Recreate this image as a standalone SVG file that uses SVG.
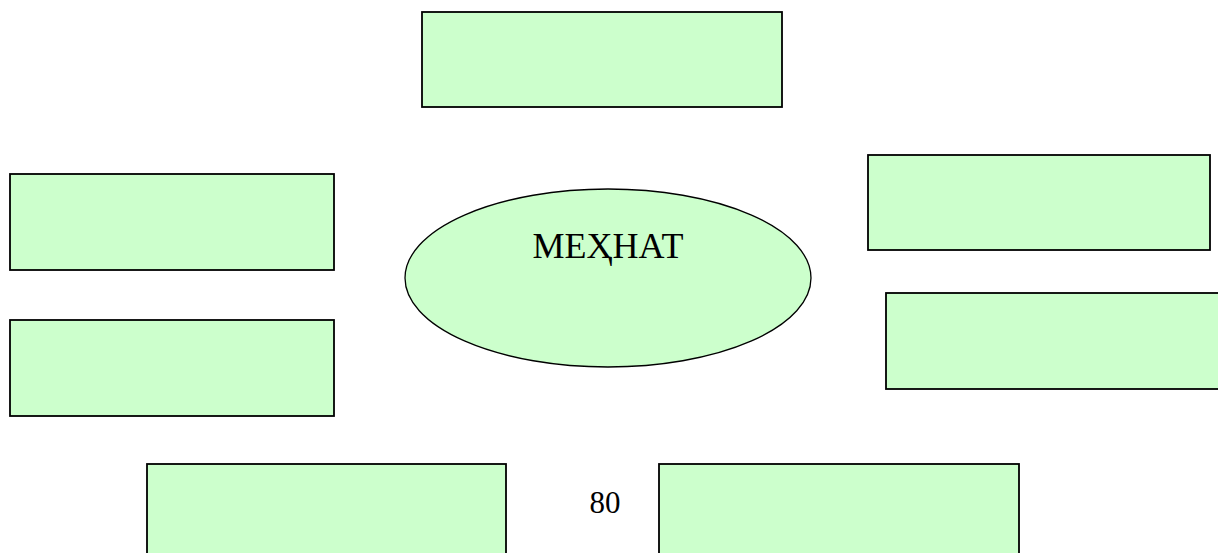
<svg xmlns="http://www.w3.org/2000/svg" width="1218" height="553" viewBox="0 0 1218 553">
<style>
.box{fill:#CCFFCC;stroke:#000;stroke-width:1.8}
.ell{fill:#CCFFCC;stroke:#000;stroke-width:1.3}
.t{font-family:"Liberation Serif","Times New Roman",serif;fill:#000}
</style>
<rect width="1218" height="553" fill="#fff"/>
<g id="top"><rect class="box" x="422" y="12" width="360" height="95"/></g>
<g id="left1"><rect class="box" x="10" y="174" width="324" height="96"/></g>
<g id="left2"><rect class="box" x="10" y="320" width="324" height="96"/></g>
<g id="right1"><rect class="box" x="868" y="155" width="342" height="95"/></g>
<g id="right2"><rect class="box" x="886" y="293" width="340" height="96"/></g>
<g id="bottom1"><rect class="box" x="147" y="464" width="359" height="100"/></g>
<g id="bottom2"><rect class="box" x="659" y="464" width="360" height="100"/></g>
<g id="center">
<ellipse class="ell" cx="608" cy="278" rx="203" ry="89"/>
<text class="t" x="608" y="258" font-size="36" text-anchor="middle">МЕҲНАТ</text>
</g>
<g id="connectors"></g>
<text class="t" x="605" y="513" font-size="31" text-anchor="middle">80</text>
</svg>
